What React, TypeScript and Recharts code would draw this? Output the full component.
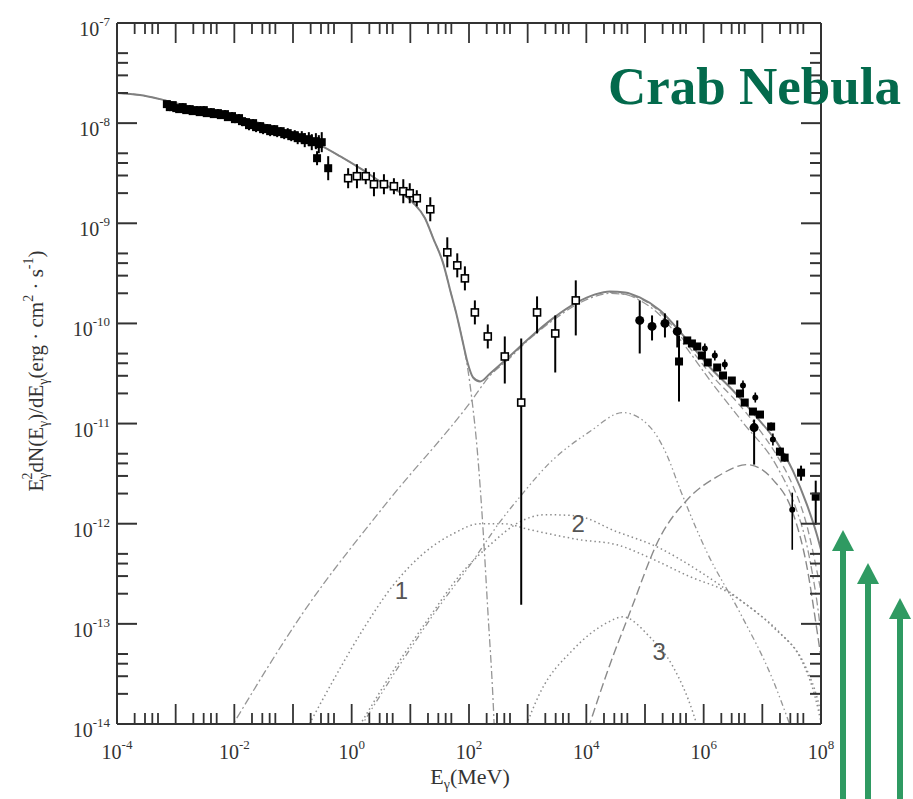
import React from "react";
import { ComposedChart, Line, Scatter, XAxis, YAxis, ErrorBar, ReferenceDot } from "recharts";

// All values are [log10 E (MeV), log10 E^2 dN/dE (erg cm^-2 s^-1)]
const totalCurve = [
  [-4.0, -7.7], [-3.61, -7.72], [-3.27, -7.76], [-2.93, -7.81], [-2.59, -7.86], [-2.07, -7.93],
  [-1.56, -8.0], [-1.05, -8.1], [-0.54, -8.22], [-0.2, -8.33], [0.14, -8.45], [0.53, -8.6],
  [1.04, -8.79], [1.25, -8.95], [1.39, -9.15], [1.56, -9.4], [1.68, -9.67], [1.8, -9.94],
  [1.9, -10.2], [1.98, -10.4], [2.07, -10.54], [2.19, -10.58], [2.36, -10.5], [2.65, -10.35],
  [3.04, -10.14], [3.43, -9.95], [3.84, -9.79], [4.15, -9.71], [4.4, -9.68], [4.66, -9.69],
  [4.91, -9.74], [5.26, -9.87], [5.65, -10.12], [6.11, -10.44], [6.5, -10.67], [6.91, -10.94],
  [7.25, -11.19], [7.52, -11.47], [7.76, -11.81], [7.93, -12.11], [8.0, -12.26],
];
const syncCurve = [
  [-4.0, -7.7], [-3.61, -7.72], [-3.27, -7.76], [-2.93, -7.81], [-2.59, -7.86], [-2.07, -7.93],
  [-1.56, -8.0], [-1.05, -8.1], [-0.54, -8.22], [-0.2, -8.33], [0.14, -8.45], [0.53, -8.6],
  [1.04, -8.79], [1.25, -8.95], [1.39, -9.15], [1.56, -9.4], [1.68, -9.67], [1.8, -9.94],
  [1.9, -10.2], [1.97, -10.42], [2.05, -10.76], [2.14, -11.26], [2.24, -12.06], [2.32, -12.86],
  [2.41, -13.76], [2.44, -14.16],
];
const icCurve = [
  [-2.1, -14.08], [-0.83, -12.89], [0.6, -11.79], [2.02, -10.79], [2.36, -10.52], [2.65, -10.37],
  [3.04, -10.15], [3.43, -9.97], [3.84, -9.81], [4.15, -9.73], [4.4, -9.7], [4.66, -9.71],
  [4.91, -9.77], [5.26, -9.92], [5.65, -10.2], [6.11, -10.57], [6.67, -10.99], [7.25, -11.43],
  [7.52, -11.76], [7.81, -12.36], [7.95, -12.86], [8.03, -13.26],
];
const dashCurve = [
  [4.4, -9.69], [4.91, -9.75], [5.26, -9.89], [5.65, -10.16], [6.11, -10.5], [6.62, -10.82],
  [6.96, -11.07], [7.25, -11.32], [7.52, -11.62], [7.76, -12.02], [7.93, -12.47], [8.03, -12.77],
];
const bremsCurve = [
  [0.1, -14.08], [0.82, -13.41], [1.51, -12.81], [2.02, -12.41], [2.53, -11.98], [2.87, -11.73],
  [3.38, -11.39], [4.06, -11.08], [4.62, -10.89], [5.08, -11.03], [5.37, -11.31], [5.6, -11.66],
  [6.06, -12.29], [6.62, -12.89], [7.18, -13.56], [7.47, -14.01],
];
const dotted1 = [
  [-0.72, -14.0], [-0.3, -13.55], [0.2, -13.05], [0.7, -12.62], [1.16, -12.33], [1.73, -12.1],
  [2.19, -12.0], [2.58, -12.0], [3.04, -12.06], [3.89, -12.16], [4.52, -12.21], [5.08, -12.34],
  [5.77, -12.53], [6.4, -12.68], [6.91, -12.89], [7.3, -13.09], [7.69, -13.39], [7.9, -13.73],
  [8.0, -13.98],
];
const dotted2 = [
  [0.1, -14.05], [0.74, -13.44], [1.33, -12.93], [1.85, -12.51], [2.36, -12.21], [2.87, -11.98],
  [3.3, -11.91], [3.81, -11.92], [4.52, -12.08], [5.2, -12.23], [5.94, -12.48], [6.62, -12.76],
  [7.18, -13.03], [7.76, -13.46], [7.93, -13.73], [8.03, -13.98],
];
const dotted3 = [
  [2.95, -14.05], [3.21, -13.69], [3.77, -13.26], [4.35, -12.99], [4.62, -12.93], [5.08, -13.13],
  [5.48, -13.43], [5.82, -13.89], [5.89, -14.02],
];
const pionCurve = [
  [4.03, -14.05], [4.4, -13.41], [4.74, -12.89], [5.26, -12.13], [5.72, -11.76], [6.23, -11.53],
  [6.74, -11.41], [7.18, -11.56], [7.52, -11.89], [7.76, -12.43], [7.93, -13.06], [8.03, -13.46],
];

// data points: [logE, logF, half-error in decades]
const bandPts = [
  [-3.15, -7.81, 0.03], [-3.1, -7.84, 0.04], [-3.05, -7.82, 0.03], [-2.99, -7.85, 0.04], [-2.94, -7.86, 0.03],
  [-2.88, -7.84, 0.04], [-2.82, -7.87, 0.03], [-2.76, -7.86, 0.04], [-2.71, -7.88, 0.03], [-2.64, -7.87, 0.04],
  [-2.59, -7.89, 0.03], [-2.52, -7.87, 0.04], [-2.47, -7.9, 0.03], [-2.4, -7.89, 0.04], [-2.35, -7.91, 0.03],
  [-2.28, -7.9, 0.04], [-2.23, -7.92, 0.03], [-2.16, -7.91, 0.04], [-2.11, -7.94, 0.03], [-2.04, -7.93, 0.04],
  [-1.99, -7.96, 0.04], [-1.92, -7.95, 0.04], [-1.87, -7.98, 0.05], [-1.8, -7.99, 0.04], [-1.75, -8.02, 0.05],
  [-1.68, -8.0, 0.04], [-1.63, -8.04, 0.05], [-1.56, -8.03, 0.04], [-1.51, -8.06, 0.05], [-1.44, -8.05, 0.04],
  [-1.39, -8.08, 0.05], [-1.32, -8.06, 0.04], [-1.27, -8.09, 0.05], [-1.21, -8.08, 0.04], [-1.15, -8.11, 0.05],
  [-1.09, -8.1, 0.05], [-1.03, -8.13, 0.05], [-0.97, -8.12, 0.05], [-0.92, -8.15, 0.06], [-0.85, -8.14, 0.06],
  [-0.8, -8.17, 0.07], [-0.73, -8.16, 0.07], [-0.68, -8.19, 0.08], [-0.61, -8.18, 0.08], [-0.56, -8.21, 0.09],
  [-0.51, -8.19, 0.1], [-0.59, -8.35, 0.07], [-0.4, -8.45, 0.12],
];
// [logE, logF, logLow, logHigh]
const openSq = [
  [-0.06, -8.55, -8.65, -8.45], [0.09, -8.53, -8.65, -8.41], [0.24, -8.53, -8.61, -8.45],
  [0.38, -8.61, -8.73, -8.49], [0.55, -8.61, -8.71, -8.51], [0.72, -8.63, -8.71, -8.55],
  [0.88, -8.68, -8.8, -8.56], [0.99, -8.7, -8.8, -8.6], [1.11, -8.75, -8.83, -8.67],
  [1.34, -8.86, -8.98, -8.74], [1.63, -9.29, -9.44, -9.14], [1.8, -9.42, -9.54, -9.3],
  [1.93, -9.55, -9.67, -9.43], [2.1, -9.89, -10.01, -9.77], [2.32, -10.13, -10.25, -10.01],
  [2.61, -10.33, -10.6, -10.13], [2.89, -10.79, -12.81, -10.15], [3.16, -9.89, -10.1, -9.73],
  [3.47, -10.1, -10.49, -9.92], [3.82, -9.77, -10.12, -9.57],
];
const circlePts = [
  [4.91, -9.97, -10.3, -9.77], [5.12, -10.03, -10.17, -9.92], [5.34, -10.0, -10.14, -9.9],
  [5.55, -10.08, -10.24, -9.97], [6.86, -11.04, -11.41, -10.96],
];
const heSquares = [
  [5.58, -10.38, -10.78, -10.12], [5.72, -10.17, -10.2, -10.14], [5.8, -10.2, -10.23, -10.17],
  [5.89, -10.23, -10.26, -10.2], [5.97, -10.32, -10.35, -10.29], [6.07, -10.39, -10.42, -10.36],
  [6.23, -10.44, -10.47, -10.41], [6.33, -10.52, -10.55, -10.49], [6.48, -10.57, -10.6, -10.54],
  [6.62, -10.7, -10.73, -10.67], [6.7, -10.79, -10.82, -10.76], [6.84, -10.88, -10.91, -10.85],
  [6.96, -10.91, -10.94, -10.88], [7.15, -11.03, -11.07, -10.99], [7.3, -11.28, -11.32, -11.24],
  [7.38, -11.34, -11.38, -11.3], [7.66, -11.49, -11.57, -11.42], [7.91, -11.73, -12.01, -11.57],
];
const hePlus = [
  [6.02, -10.25, -10.3, -10.2], [6.19, -10.32, -10.37, -10.27], [6.36, -10.41, -10.46, -10.36],
  [6.67, -10.62, -10.67, -10.57], [6.88, -10.74, -10.79, -10.69], [7.18, -11.16, -11.22, -11.1],
  [7.51, -11.86, -12.26, -11.69],
];

// axis ticks
const xDecades = [-4, -3, -2, -1, 0, 1, 2, 3, 4, 5, 6, 7, 8];
const xLabelled = [-4, -2, 0, 2, 4, 6, 8];
const yDecades = [-14, -13, -12, -11, -10, -9, -8, -7];
const minorMult = [2, 3, 4, 5];

const curveLabels = [
  { t: "1", e: 0.85, f: -12.67 },
  { t: "2", e: 3.86, f: -12.0 },
  { t: "3", e: 5.24, f: -13.28 },
];

const mkTicks = (dec: number[]) =>
  dec.flatMap((d, i) => [Math.pow(10, d), ...(i < dec.length - 1 ? minorMult.map((m) => m * Math.pow(10, d)) : [])]);
const xTicks = mkTicks(xDecades);
const yTicks = mkTicks(yDecades);

const curve = (a: number[][]) => a.map(([e, f]) => ({ x: Math.pow(10, e), y: Math.pow(10, f) }));
const pts4 = (a: number[][]) =>
  a.map(([e, f, lo, hi]) => {
    const y = Math.pow(10, f);
    return { x: Math.pow(10, e), y, err: [y - Math.pow(10, lo), Math.pow(10, hi) - y] };
  });
const pts3 = (a: number[][]) => pts4(a.map(([e, f, d]) => [e, f, f - d, f + d]));

const SERIF = "'Liberation Serif', 'Times New Roman', serif";
const AX = "#333";

const isMajor = (v: number) => {
  const e = Math.log10(v);
  return Math.abs(e - Math.round(e)) < 1e-6;
};

const TickBottom = (p: any) => {
  const x = Number(p.x), y = Number(p.y);
  const v = Number(p.payload.value);
  const major = isMajor(v);
  const r = Math.round(Math.log10(v));
  const len = major ? 20 : 11;
  return (
    <g>
      <path d={`M${x},${y}L${x},${y - len}`} stroke={AX} strokeWidth={1.8} fill="none" />
      {major && xLabelled.includes(r) ? (
        <text x={x} y={y + 35} textAnchor="middle" fontFamily={SERIF} fontSize={20} fill="#333">
          10<tspan dy={-10} fontSize={13}>{String(r)}</tspan>
        </text>
      ) : null}
    </g>
  );
};
const TickTop = (p: any) => {
  const x = Number(p.x), y = Number(p.y);
  const len = isMajor(Number(p.payload.value)) ? 20 : 11;
  return <path d={`M${x},${y}L${x},${y + len}`} stroke={AX} strokeWidth={1.8} fill="none" />;
};
const TickLeft = (p: any) => {
  const x = Number(p.x), y = Number(p.y);
  const v = Number(p.payload.value);
  const major = isMajor(v);
  const r = Math.round(Math.log10(v));
  const len = major ? 20 : 11;
  return (
    <g>
      <path d={`M${x},${y}L${x + len},${y}`} stroke={AX} strokeWidth={2} fill="none" />
      {major ? (
        <text x={x - 7} y={y + 13} textAnchor="end" fontFamily={SERIF} fontSize={20} fill="#333">
          10<tspan dy={-10} fontSize={13}>{String(r)}</tspan>
        </text>
      ) : null}
    </g>
  );
};
const TickRight = (p: any) => {
  const x = Number(p.x), y = Number(p.y);
  const len = isMajor(Number(p.payload.value)) ? 20 : 11;
  return <path d={`M${x},${y}L${x - len},${y}`} stroke={AX} strokeWidth={2} fill="none" />;
};

const sq = (s: number, open: boolean) => (p: any) => (
  <rect x={p.cx - s / 2} y={p.cy - s / 2} width={s} height={s} fill={open ? "#fff" : "#000"} stroke="#000" strokeWidth={open ? 1.6 : 0} />
);
const circ = (r: number) => (p: any) => <circle cx={p.cx} cy={p.cy} r={r} fill="#000" />;

const GRAY = "#969696";

export default function App() {
  return (
    <div style={{ position: "relative", width: 913, height: 799 }}>
      <style>{"body{margin:0;overflow:hidden;background:#fff}"}</style>
      <ComposedChart width={913} height={799} margin={{ top: 22, right: 91, left: 0, bottom: 0 }}>
        <XAxis dataKey="x" type="number" scale="log" domain={[1e-4, 1e8]} allowDataOverflow ticks={xTicks} interval={0}
          tickSize={0} tickMargin={0} tick={TickBottom} tickLine={false}
          axisLine={{ stroke: AX, strokeWidth: 2 }} height={75} />
        <XAxis xAxisId="top" orientation="top" dataKey="x" type="number" scale="log" domain={[1e-4, 1e8]} allowDataOverflow
          ticks={xTicks} interval={0} tickSize={0} tickMargin={0} tick={TickTop} tickLine={false}
          axisLine={{ stroke: AX, strokeWidth: 2 }} height={1} />
        <YAxis dataKey="y" type="number" scale="log" domain={[1e-14, 1e-7]} allowDataOverflow ticks={yTicks} interval={0}
          tickSize={0} tickMargin={0} tick={TickLeft} tickLine={false}
          axisLine={{ stroke: AX, strokeWidth: 2 }} width={117} />
        <YAxis yAxisId="right" orientation="right" dataKey="y" type="number" scale="log" domain={[1e-14, 1e-7]} allowDataOverflow
          ticks={yTicks} interval={0} tickSize={0} tickMargin={0} tick={TickRight} tickLine={false}
          axisLine={{ stroke: AX, strokeWidth: 2 }} width={1} />

        <Line xAxisId="top" yAxisId="right" data={curve(totalCurve)} dataKey="y" stroke="none" strokeWidth={0} dot={false} isAnimationActive={false} />

        <Line data={curve(dotted1)} dataKey="y" type="monotone" stroke="#8c8c8c" strokeWidth={1.5} strokeDasharray="1.5 3" dot={false} isAnimationActive={false} />
        <Line data={curve(dotted2)} dataKey="y" type="monotone" stroke="#8c8c8c" strokeWidth={1.5} strokeDasharray="1.5 3" dot={false} isAnimationActive={false} />
        <Line data={curve(dotted3)} dataKey="y" type="monotone" stroke="#8c8c8c" strokeWidth={1.5} strokeDasharray="1.5 3" dot={false} isAnimationActive={false} />
        <Line data={curve(bremsCurve)} dataKey="y" type="monotone" stroke={GRAY} strokeWidth={1.3} strokeDasharray="6 3 1.5 3 1.5 3" dot={false} isAnimationActive={false} />
        <Line data={curve(pionCurve)} dataKey="y" type="monotone" stroke="#8a8a8a" strokeWidth={1.4} strokeDasharray="9 4" dot={false} isAnimationActive={false} />
        <Line data={curve(icCurve)} dataKey="y" type="monotone" stroke={GRAY} strokeWidth={1.3} strokeDasharray="8 3 2 3" dot={false} isAnimationActive={false} />
        <Line data={curve(dashCurve)} dataKey="y" type="monotone" stroke={GRAY} strokeWidth={1.3} strokeDasharray="7 4" dot={false} isAnimationActive={false} />
        <Line data={curve(syncCurve)} dataKey="y" type="monotone" stroke={GRAY} strokeWidth={1.3} strokeDasharray="8 3 2 3" dot={false} isAnimationActive={false} />
        <Line data={curve(totalCurve)} dataKey="y" type="monotone" stroke="#808080" strokeWidth={2} dot={false} isAnimationActive={false} />

        <Scatter data={pts3(bandPts)} dataKey="y" shape={sq(8, false)} isAnimationActive={false}>
          <ErrorBar dataKey="err" direction="y" width={0} stroke="#000" strokeWidth={2} />
        </Scatter>
        <Scatter data={pts4(openSq)} dataKey="y" shape={sq(7, true)} isAnimationActive={false}>
          <ErrorBar dataKey="err" direction="y" width={0} stroke="#000" strokeWidth={2} />
        </Scatter>
        <Scatter data={pts4(circlePts)} dataKey="y" shape={circ(4.5)} isAnimationActive={false}>
          <ErrorBar dataKey="err" direction="y" width={0} stroke="#000" strokeWidth={2} />
        </Scatter>
        <Scatter data={pts4(heSquares)} dataKey="y" shape={sq(8, false)} isAnimationActive={false}>
          <ErrorBar dataKey="err" direction="y" width={0} stroke="#000" strokeWidth={2} />
        </Scatter>
        <Scatter data={pts4(hePlus)} dataKey="y" shape={circ(3)} isAnimationActive={false}>
          <ErrorBar dataKey="err" direction="y" width={0} stroke="#000" strokeWidth={1.6} />
        </Scatter>

        {curveLabels.map((c) => (
          <ReferenceDot key={c.t} x={Math.pow(10, c.e)} y={Math.pow(10, c.f)} r={0} fill="none" stroke="none"
            label={{ value: c.t, position: "center", fontSize: 24, fill: "#555", fontFamily: "'Liberation Sans', Arial, sans-serif" }} />
        ))}
      </ComposedChart>

      <svg width={913} height={799} style={{ position: "absolute", left: 0, top: 0, pointerEvents: "none" }}>
        <text x={470} y={784} textAnchor="middle" fontFamily={SERIF} fontSize={22} fill="#333">
          E<tspan dy={5} fontSize={14}>γ</tspan><tspan dy={-5}>(MeV)</tspan>
        </text>
        <text transform="translate(43,371) rotate(-90)" textAnchor="middle" fontFamily={SERIF} fontSize={21} fill="#333">
          E<tspan dy={5} fontSize={14}>γ</tspan>
          <tspan dx={-7} dy={-16} fontSize={14}>2</tspan>
          <tspan dy={11}>dN(E</tspan><tspan dy={5} fontSize={14}>γ</tspan>
          <tspan dy={-5}>)/dE</tspan><tspan dy={5} fontSize={14}>γ</tspan>
          <tspan dy={-5}>(erg · cm</tspan><tspan dy={-10} fontSize={14}>2</tspan>
          <tspan dy={10}> · s</tspan><tspan dy={-10} fontSize={14}>-1</tspan>
          <tspan dy={10}>)</tspan>
        </text>
        <text x={608} y={104} fontFamily={SERIF} fontWeight="bold" fontSize={53} fill="#036a4c">Crab Nebula</text>
        {[
          [843, 530],
          [868, 563],
          [900, 598],
        ].map(([x, t]) => (
          <g key={x} fill="#2f9a62">
            <rect x={x - 3} y={t + 18} width={6} height={799 - t - 18} />
            <polygon points={`${x},${t} ${x - 11},${t + 21} ${x + 11},${t + 21}`} />
          </g>
        ))}
      </svg>
    </div>
  );
}
